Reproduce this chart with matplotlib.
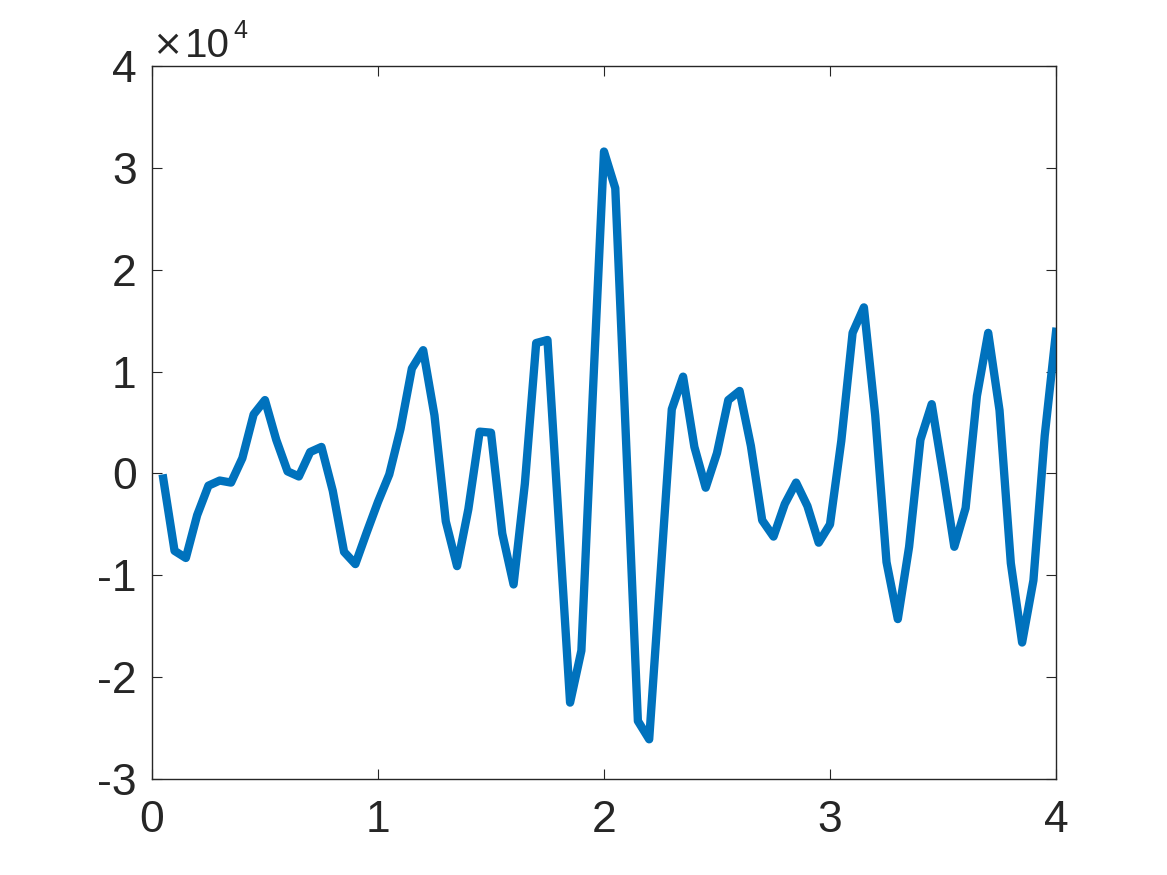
import numpy as np
import matplotlib
matplotlib.use('Agg')
import matplotlib.pyplot as plt

plt.rcParams['font.family'] = ['Liberation Sans', 'DejaVu Sans']
plt.rcParams['axes.unicode_minus'] = False

# Signal samples (units of 1e4), t = 0.05 ... 4.0 step 0.05
t = np.arange(1, 81) * 0.05
y = [-0.05, -0.76, -0.83, -0.41, -0.12, -0.07, -0.09, 0.15, 0.58, 0.72,
     0.33, 0.02, -0.03, 0.21, 0.26, -0.17, -0.77, -0.89, -0.58, -0.28,
     -0.01, 0.44, 1.03, 1.21, 0.57, -0.47, -0.91, -0.35, 0.41, 0.40,
     -0.59, -1.09, -0.10, 1.28, 1.31, -0.47, -2.25, -1.74, 0.75, 3.16,
     2.80, 0.20, -2.43, -2.61, -1.00, 0.63, 0.95, 0.26, -0.14, 0.20,
     0.72, 0.81, 0.27, -0.46, -0.62, -0.30, -0.09, -0.32, -0.68, -0.50,
     0.32, 1.38, 1.63, 0.57, -0.87, -1.43, -0.72, 0.33, 0.68, 0.00,
     -0.72, -0.34, 0.76, 1.38, 0.62, -0.88, -1.66, -1.05, 0.37, 1.39]
scale = 1e4
y = np.array(y) * scale

xticks = [0, 1, 2, 3, 4]
yticks = [-3, -2, -1, 0, 1, 2, 3, 4]

fig = plt.figure(figsize=(11.67, 8.75), dpi=100)
ax = fig.add_axes([0.1302, 0.1097, 0.7747, 0.8149])
ax.plot(t, y, color='#0072BD', linewidth=6)

ax.set_xlim(0, 4)
ax.set_ylim(-3 * scale, 4 * scale)
ax.set_xticks(xticks)
ax.set_xticklabels([str(v) for v in xticks])
ax.set_yticks([v * scale for v in yticks])
ax.set_yticklabels([str(v) for v in yticks])

dark = '#262626'
for s in ax.spines.values():
    s.set_color(dark)
    s.set_linewidth(1.0)
ax.tick_params(direction='in', length=7, width=0.8, colors=dark,
               labelsize=32, top=True, right=True)
ax.tick_params(axis='x', pad=15)
ax.tick_params(axis='y', pad=11)

# exponent label
fig.text(167 / 1167, 1 - 45 / 875, '\u00d7', fontsize=26, color=dark,
         family='DejaVu Sans', ha='center', va='center')
fig.text(185 / 1167, 1 - 57 / 875, '10', fontsize=29, color=dark,
         ha='left', va='baseline')
fig.text(233 / 1167, 1 - 38 / 875, '4', fontsize=18, color=dark,
         ha='left', va='baseline')

fig.savefig('out.png', dpi=100)
